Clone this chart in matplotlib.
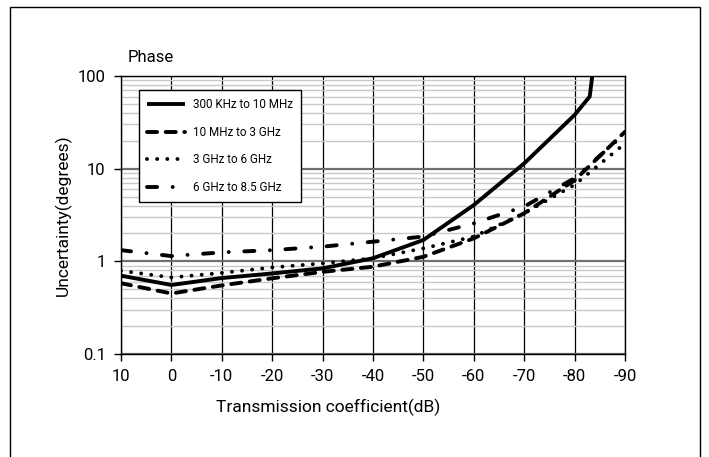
import matplotlib
matplotlib.use("Agg")
import matplotlib.pyplot as plt
from matplotlib.patches import Rectangle
from matplotlib.ticker import LogLocator, NullFormatter, FixedLocator

plt.rcParams['font.family'] = ['Roboto', 'DejaVu Sans']
plt.rcParams['axes.unicode_minus'] = False

x_ticks = [10, 0, -10, -20, -30, -40, -50, -60, -70, -80, -90]
x_tick_labels = ["10", "0", "-10", "-20", "-30", "-40", "-50", "-60", "-70", "-80", "-90"]
y_ticks = [0.1, 1, 10, 100]
y_tick_labels = ["0.1", "1", "10", "100"]

x_solid = [10, 0, -10, -20, -30, -40, -50, -60, -70, -80, -83, -83.5, -83.8]
y_solid = [0.70, 0.556, 0.66, 0.74, 0.84, 1.08, 1.70, 4.05, 11.4, 38, 60, 100, 130]

x_std = [10, 0, -10, -20, -30, -40, -50, -60, -70, -80, -90]
y_dashed = [0.58, 0.45, 0.55, 0.656, 0.77, 0.875, 1.12, 1.77, 3.3, 7.5, 25]
y_dotted = [0.79, 0.67, 0.75, 0.86, 0.95, 1.08, 1.38, 1.85, 3.3, 6.7, 18.7]
y_dashdot = [1.32, 1.14, 1.25, 1.32, 1.44, 1.63, 1.85, 2.57, 3.9, 7.9, 24]

labels = ["300 KHz to 10 MHz", "10 MHz to 3 GHz", "3 GHz to 6 GHz", "6 GHz to 8.5 GHz"]

fig = plt.figure(figsize=(7.09, 4.57), dpi=100)
ax = fig.add_axes([121/709, 1-354/457, 504/709, 278/457])

lw = 2.8
ax.plot(x_solid, y_solid, color='black', lw=lw, solid_capstyle='butt', label=labels[0], zorder=5)
ax.plot(x_std, y_dashed, color='black', lw=lw, linestyle=(0, (2.6, 2.2)), dash_capstyle='round', label=labels[1], zorder=5)
ax.plot(x_std, y_dotted, color='black', lw=lw, linestyle=(0, (0.01, 2.6)), dash_capstyle='round', label=labels[2], zorder=5)
ax.plot(x_std, y_dashdot, color='black', lw=lw, linestyle=(0, (2.6, 4.0, 0.01, 4.0)), dash_capstyle='round', label=labels[3], zorder=5)

ax.set_yscale('log')
ax.set_xlim(10, -90)
ax.set_ylim(0.1, 100)
ax.xaxis.set_major_locator(FixedLocator(x_ticks))
ax.set_xticklabels(x_tick_labels)
ax.yaxis.set_major_locator(FixedLocator(y_ticks))
ax.set_yticklabels(y_tick_labels)
ax.yaxis.set_minor_locator(LogLocator(base=10, subs=[2, 3, 4, 5, 6, 7, 8, 9]))
ax.yaxis.set_minor_formatter(NullFormatter())

ax.grid(True, axis='x', which='major', color='black', lw=0.9)
ax.grid(True, axis='y', which='major', color='#707070', lw=1.6)
ax.grid(True, axis='y', which='minor', color='#c8c8c8', lw=1.0)
ax.set_axisbelow(True)

for s in ax.spines.values():
    s.set_color('black')
    s.set_linewidth(1.0)

ax.tick_params(axis='both', which='major', labelsize=12, length=5, width=1, color='black', pad=6)
ax.tick_params(axis='y', which='minor', length=0)

ax.set_xlabel("Transmission coefficient(dB)", fontsize=12.5)
ax.xaxis.set_label_coords((328 - 121) / 504, -(407 - 354) / 278)
ax.xaxis.label.set_va('center')
ax.set_ylabel("Uncertainty(degrees)", fontsize=12.5, labelpad=4)

fig.text(128/709, 1-57/457, "Phase", fontsize=12, ha='left', va='center')

leg = ax.legend(loc='upper left', bbox_to_anchor=(18/504, (354-90)/278), borderaxespad=0,
                fontsize=8.4, frameon=True, fancybox=False, edgecolor='black',
                handlelength=3.2, labelspacing=1.25, borderpad=0.7, handletextpad=0.7)
leg.get_frame().set_linewidth(1.0)
leg.get_frame().set_alpha(1)
leg.set_zorder(10)

rect = Rectangle((10/709, -0.2), 690/709, 1.2 - 7/457, transform=fig.transFigure,
                 fill=False, edgecolor='black', lw=1.0, clip_on=False)
fig.patches.append(rect)

fig.savefig("out.png", dpi=100)
